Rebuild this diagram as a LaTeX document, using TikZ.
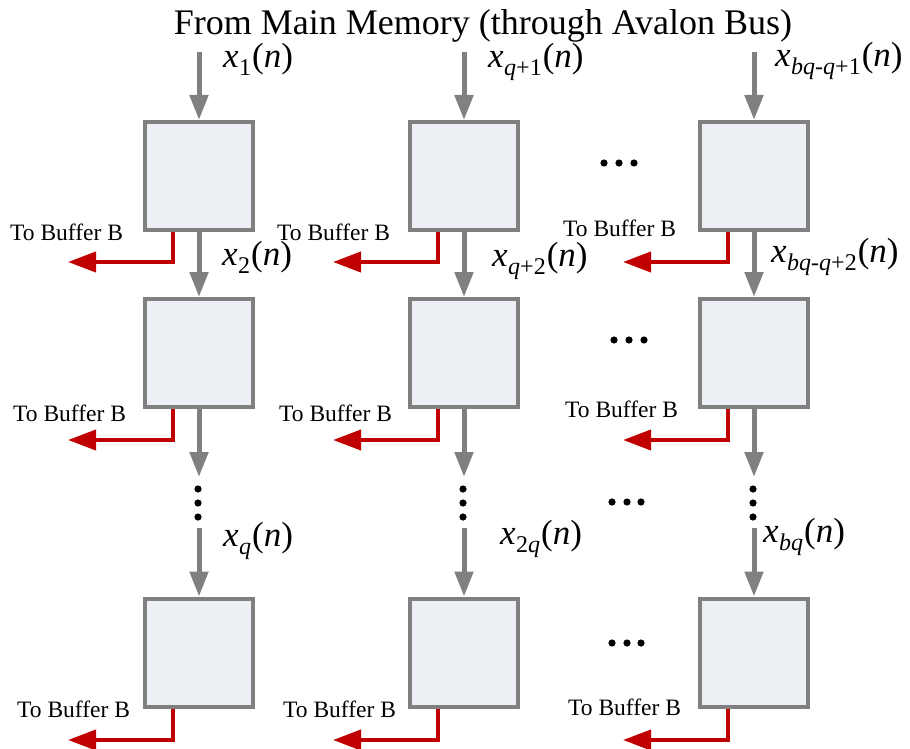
\documentclass[tikz,border=0pt]{standalone}
\usepackage{fontspec}
\setmainfont{Liberation Serif}
\usetikzlibrary{arrows.meta}

\definecolor{pegray}{RGB}{128,128,128}
\definecolor{pefill}{RGB}{236,239,244}
\definecolor{outred}{RGB}{192,0,0}

% signal label: x with a subscript, followed by (n)
\newcommand{\sig}[1]{\textit{x}\kern0.5pt\raisebox{-8pt}{\fontsize{24}{24}\selectfont #1}\kern1pt(\textit{n})}

\tikzset{
  pe/.style={draw=pegray, line width=4pt, fill=pefill,
             minimum width=108pt, minimum height=108pt, inner sep=0pt},
  feed/.style={draw=pegray, line width=5pt,
               -{Triangle[length=25pt,width=18pt]}},
  tobuf/.style={draw=outred, line width=4pt,
                -{Triangle[length=28pt,width=20pt]}},
  siglabel/.style={font=\fontsize{35}{35}\selectfont, anchor=base west, inner sep=0pt},
  buflabel/.style={font=\fontsize{23.5}{23.5}\selectfont, anchor=base west, inner sep=0pt},
  dotmark/.style={fill=black, draw=none},
}

\begin{document}
\begin{tikzpicture}[x=1pt,y=-1pt]
\useasboundingbox (0,0) rectangle (910,749);

% header
\node[font=\fontsize{36}{36}\selectfont, anchor=base, inner sep=0pt] (title) at (483,35)
  {From Main Memory (through Avalon Bus)};

% processing elements, three per column
\foreach \c/\x in {a/199, b/464, c/754} {
  \node[pe] (\c1) at (\x,176) {};
  \node[pe] (\c2) at (\x,353) {};
  \node[pe] (\c3) at (\x,652.5) {};
  \coordinate (\c0) at (\x,52);
  \coordinate (\c-dotstop) at (\x,477);
  \coordinate (\c-dotsbot) at (\x,528);
  % outputs towards buffer B
  \coordinate (\c1-out) at (\x-131,262);
  \coordinate (\c2-out) at (\x-131,440);
  \coordinate (\c3-out) at (\x-131,740);
  % data flow down the column
  \draw[feed] (\c0) -- (\c1.north);
  \draw[feed] (\c1.south) -- (\c2.north);
  \draw[feed] (\c2.south) -- (\c-dotstop);
  \draw[feed] (\c-dotsbot) -- (\c3.north);
  \foreach \r in {1,2,3}
    \draw[tobuf] ([xshift=-26pt]\c\r.south) |- (\c\r-out);
  % vertical ellipsis
  \foreach \y in {489,503,517}
    \fill[dotmark] (\x-1,\y) circle (3.6pt);
}

% horizontal ellipses between the second and last column
\foreach \x/\y in {604/163,619/163,634/163,
                   614/340,629/340,644/340,
                   612/502,627/502,641/502,
                   612/643,627/643,641/643}
  \fill[dotmark] (\x,\y) circle (3.6pt);

% signal labels
\node[siglabel] (la1) at (223,68)  {\sig{1}};
\node[siglabel] (lb1) at (488,68)  {\sig{\textit{q}+1}};
\node[siglabel] (lc1) at (775,67)  {\sig{\textit{bq}-\textit{q}+1}};
\node[siglabel] (la2) at (222,265) {\sig{2}};
\node[siglabel] (lb2) at (492,266) {\sig{\textit{q}+2}};
\node[siglabel] (lc2) at (771,262) {\sig{\textit{bq}-\textit{q}+2}};
\node[siglabel] (la3) at (223,546) {\sig{\textit{q}}};
\node[siglabel] (lb3) at (500,544) {\sig{2\textit{q}}};
\node[siglabel] (lc3) at (763,542) {\sig{\textit{bq}}};

% buffer B labels
\node[buflabel] (ba1) at (10,240)  {To Buffer B};
\node[buflabel] (bb1) at (277,240) {To Buffer B};
\node[buflabel] (bc1) at (563,236) {To Buffer B};
\node[buflabel] (ba2) at (13,421)  {To Buffer B};
\node[buflabel] (bb2) at (279,421) {To Buffer B};
\node[buflabel] (bc2) at (565,417) {To Buffer B};
\node[buflabel] (ba3) at (17,717)  {To Buffer B};
\node[buflabel] (bb3) at (283,717) {To Buffer B};
\node[buflabel] (bc3) at (568,715) {To Buffer B};
\end{tikzpicture}
\end{document}
